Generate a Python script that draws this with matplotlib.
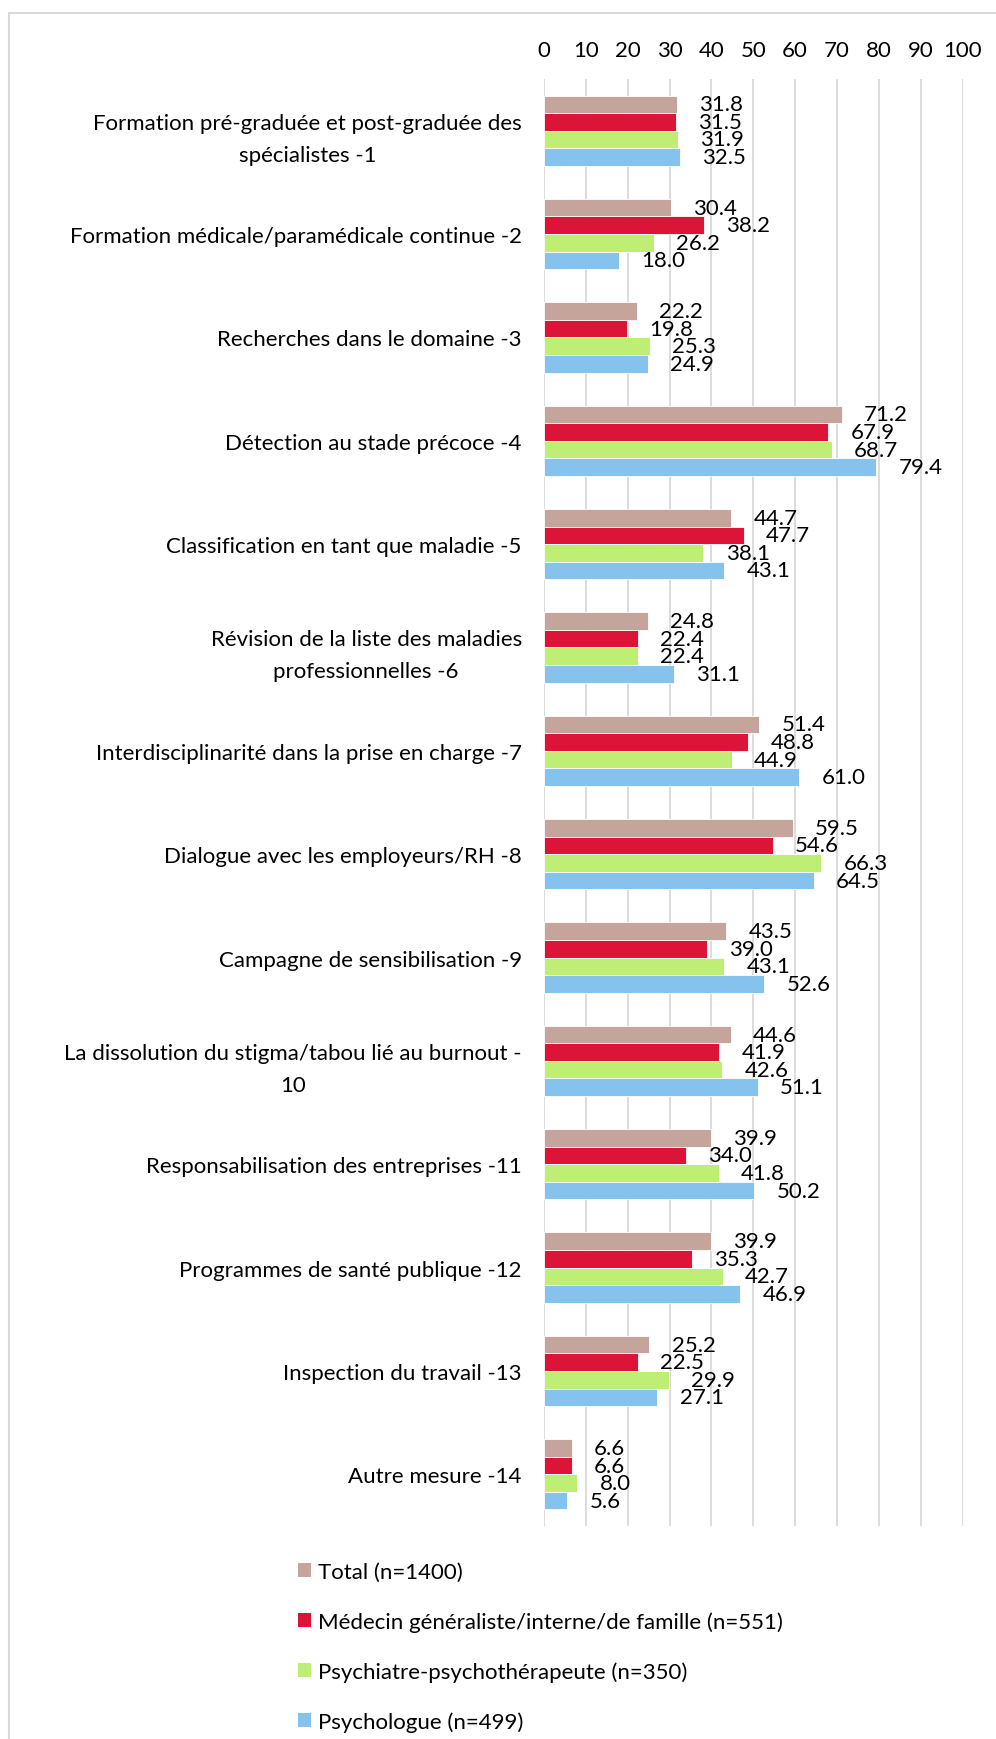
import matplotlib
matplotlib.use("Agg")
import matplotlib.pyplot as plt
from matplotlib.patches import Rectangle, Patch
import numpy as np

plt.rcParams["font.family"] = ["Lato", "DejaVu Sans"]

categories = [
    "Formation pré-graduée et post-graduée des\nspécialistes -1",
    "Formation médicale/paramédicale continue -2",
    "Recherches dans le domaine -3",
    "Détection au stade précoce -4",
    "Classification en tant que maladie -5",
    "Révision de la liste des maladies\nprofessionnelles -6",
    "Interdisciplinarité dans la prise en charge -7",
    "Dialogue avec les employeurs/RH -8",
    "Campagne de sensibilisation -9",
    "La dissolution du stigma/tabou lié au burnout -\n10",
    "Responsabilisation des entreprises -11",
    "Programmes de santé publique -12",
    "Inspection du travail -13",
    "Autre mesure -14",
]

series_names = [
    "Total (n=1400)",
    "Médecin généraliste/interne/de famille (n=551)",
    "Psychiatre-psychothérapeute (n=350)",
    "Psychologue (n=499)",
]

total = [31.8, 30.4, 22.2, 71.2, 44.7, 24.8, 51.4, 59.5, 43.5, 44.6, 39.9, 39.9, 25.2, 6.6]
medecin = [31.5, 38.2, 19.8, 67.9, 47.7, 22.4, 48.8, 54.6, 39.0, 41.9, 34.0, 35.3, 22.5, 6.6]
psychiatre = [31.9, 26.2, 25.3, 68.7, 38.1, 22.4, 44.9, 66.3, 43.1, 42.6, 41.8, 42.7, 29.9, 8.0]
psychologue = [32.5, 18.0, 24.9, 79.4, 43.1, 31.1, 61.0, 64.5, 52.6, 51.1, 50.2, 46.9, 27.1, 5.6]

colors = ["#C5A59B", "#DC1438", "#BFEE75", "#85C2EE"]
FS = 16

W, H = 996, 1740
fig = plt.figure(figsize=(W / 100, H / 100), dpi=100)
fig.patch.set_facecolor("white")

# outer frame (only top and left edges visible, chart is cropped)
fig.patches.append(Rectangle((8.5 / W, -0.1), 1.2, 1.1 - 13.5 / H,
                             transform=fig.transFigure, fill=False,
                             edgecolor="#D9D9D9", linewidth=1.5))

ax = fig.add_axes([544 / W, 1 - 1527 / H, (962.5 - 544) / W, (1527 - 80) / H])

y = np.arange(len(categories))
h = 0.17
all_series = [total, medecin, psychiatre, psychologue]
for k, (vals, col) in enumerate(zip(all_series, colors)):
    pos = y + (k - 1.5) * h
    bars = ax.barh(pos, vals, height=h, color=col, edgecolor="white", linewidth=0.6, zorder=3)
    for b, v in zip(bars, vals):
        ax.annotate(f"{v:.1f}", (b.get_width(), b.get_y() + b.get_height() / 2),
                    xytext=(16, 0), textcoords="offset points",
                    ha="left", va="center", fontsize=FS, color="#000000", zorder=4)

ax.set_xlim(0, 100)
ax.set_ylim(len(categories) - 0.5, -0.5)
ax.set_xticks(np.arange(0, 101, 10))
ax.xaxis.tick_top()
ax.tick_params(axis="x", length=0, pad=14, labelsize=FS)
ax.tick_params(axis="y", length=0, pad=16)
ax.set_yticks(y)
ax.set_yticklabels(categories, fontsize=FS, multialignment="center", linespacing=1.75)
ax.grid(axis="x", color="#D9D9D9", linewidth=1.3, zorder=0)
for s in ax.spines.values():
    s.set_visible(False)

handles = [Patch(facecolor=c, edgecolor="none") for c in colors]
fig.legend(handles, series_names, loc="upper left",
           bbox_to_anchor=(298 / W, 1 - 1563 / H), frameon=False, fontsize=FS,
           handlelength=0.6, handleheight=0.6, handletextpad=0.3,
           labelspacing=1.32, borderpad=0, borderaxespad=0)

fig.savefig("out.png", dpi=100, facecolor="white")
